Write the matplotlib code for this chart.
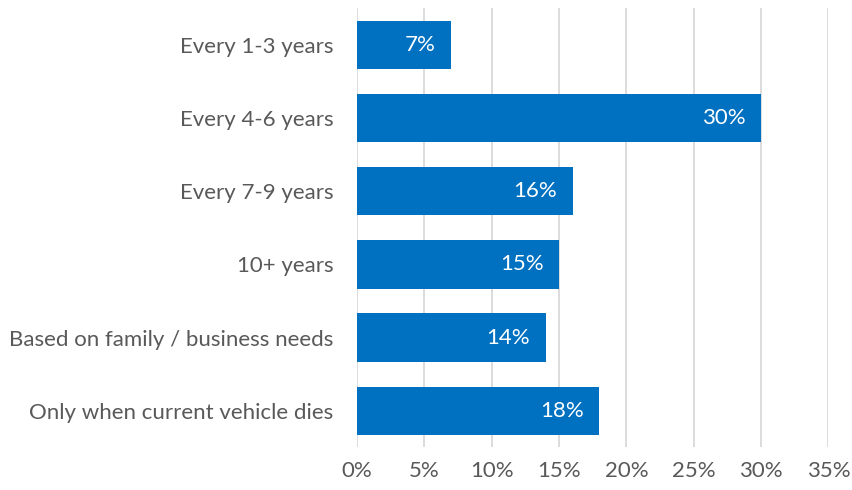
import matplotlib.pyplot as plt

categories = ['Every 1-3 years', 'Every 4-6 years', 'Every 7-9 years', '10+ years',
              'Based on family / business needs', 'Only when current vehicle dies']
values = [7, 30, 16, 15, 14, 18]
xticks = [0, 5, 10, 15, 20, 25, 30, 35]

plt.rcParams['font.family'] = ['Lato', 'DejaVu Sans']

fig = plt.figure(figsize=(8.52, 4.9), dpi=100)
ax = fig.add_axes([0.419, 0.0869, 0.9724 - 0.419, 0.9835 - 0.0869])

y = list(range(len(categories)))
bars = ax.barh(y, values, height=0.66, color='#0070C0', zorder=3)
for b, v in zip(bars, values):
    ax.annotate(f'{v}%', (b.get_width(), b.get_y() + b.get_height() / 2),
                xytext=(-11, 0), textcoords='offset points', ha='right', va='center',
                color='white', fontsize=16, zorder=4)

ax.set_xlim(0, 35)
ax.set_ylim(len(categories) - 0.5, -0.5)
ax.set_xticks(xticks)
ax.set_xticklabels([f'{t}%' for t in xticks])
ax.set_yticks(y)
ax.set_yticklabels(categories)
ax.grid(axis='x', color='#D9D9D9', linewidth=1.3, zorder=0)
for s in ax.spines.values():
    s.set_visible(False)
ax.tick_params(axis='both', length=0, labelsize=16, colors='#595959')
ax.tick_params(axis='y', pad=17)
ax.tick_params(axis='x', pad=10)

fig.savefig('out.png', dpi=100)
